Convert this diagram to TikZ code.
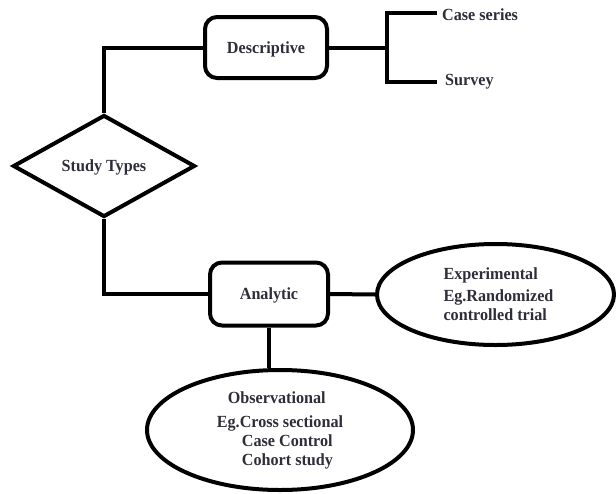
\documentclass[tikz,border=0pt]{standalone}
\usepackage{fontspec}
\setmainfont{Liberation Serif}[FakeStretch=0.95]
\usetikzlibrary{shapes.geometric}
\definecolor{ink}{HTML}{2E2E3A}
\begin{document}
\begin{tikzpicture}[x=1pt,y=-1pt,
  every node/.style={font=\bfseries\fontsize{17}{19}\selectfont, text=ink},
  line/.style={draw=black, line width=4pt},
  oneline/.style={text depth=0pt},
  roundbox/.style={line, oneline, rectangle, rounded corners=12pt, minimum width=118pt, minimum height=63pt, inner sep=0pt},
  decision/.style={line, oneline, diamond, minimum width=182pt, minimum height=102pt, inner sep=0pt},
  oval/.style={line, ellipse, inner sep=0pt},
  label/.style={oneline, anchor=west, inner sep=0pt}]
\useasboundingbox (0,0) rectangle (616,493);

% main nodes
\node[roundbox, minimum width=122pt, minimum height=61pt] (desc) at (266,47.5) {Descriptive};
\node[decision] (study) at (104,166) {Study Types};
\node[roundbox] (analytic) at (269,294) {Analytic};
\node[oval, minimum width=237pt, minimum height=101pt, align=left] (exper) at (495.5,294.5)
  {\hspace*{6pt}Experimental\\[3pt]\hspace*{6pt}Eg.Randomized\\\hspace*{6pt}controlled trial};
\node[oval, minimum width=266pt, minimum height=120pt, align=left] (obs) at (280,430)
  {\hspace*{11pt}Observational\\[5pt]Eg.Cross sectional\\\hspace*{25pt}Case Control\\\hspace*{25pt}Cohort study};

% descriptive sub-types
\node[label] (cases) at (442,14.5) {Case series};
\node[label] (survey) at (445,80) {Survey};
\coordinate (branch) at (387,47.5);
\coordinate (casesend) at (437,13.3);
\coordinate (surveyend) at (437,82);

% connectors
\draw[line] (desc.west) -| (study.north);
\draw[line] (desc.east) -- (branch);
\draw[line] (casesend) -| (branch) |- (surveyend);
\draw[line] (study.south) |- (analytic.west);
\draw[line] (analytic.east) -- (exper.west);
\draw[line] (analytic.south) -- (analytic.south |- obs.north);
\end{tikzpicture}
\end{document}
